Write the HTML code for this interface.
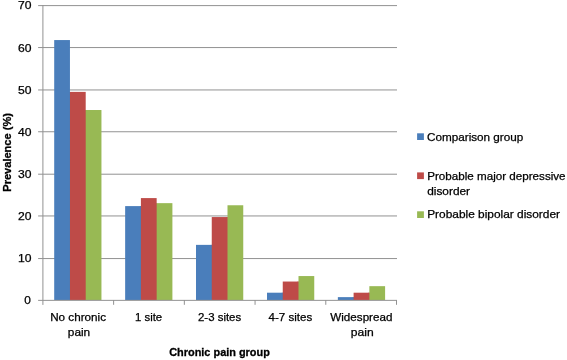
<!DOCTYPE html>
<html lang="en"><head><meta charset="utf-8"><title>Chronic pain prevalence chart</title>
<style>html,body{margin:0;padding:0;background:#fff}body{width:567px;height:360px;overflow:hidden}svg{display:block}text{font-family:"Liberation Sans",sans-serif;fill:#000;stroke:#000;stroke-width:.25px}.b{font-weight:bold;stroke-width:.3px}</style></head><body>
<svg width="567" height="360" viewBox="0 0 567 360">
<rect width="567" height="360" fill="#fff"/>
<g fill="#929292">
<rect x="38.1" y="258.05" width="358.9" height="1"/>
<rect x="38.1" y="215.45" width="358.9" height="1"/>
<rect x="38.1" y="173.70" width="358.9" height="1"/>
<rect x="38.1" y="131.25" width="358.9" height="1"/>
<rect x="38.1" y="89.45" width="358.9" height="1"/>
<rect x="38.1" y="47.05" width="358.9" height="1"/>
<rect x="38.1" y="5.10" width="358.9" height="1"/>
</g>
<g>
<rect x="68.95" y="91.89" width="1.05" height="208.11" fill="#4a7ebb"/>
<rect x="54.20" y="40.06" width="15.75" height="259.94" fill="#4a7ebb"/>
<rect x="84.70" y="110.01" width="1.30" height="189.99" fill="#be4b48"/>
<rect x="69.95" y="91.89" width="15.75" height="208.11" fill="#be4b48"/>
<rect x="85.70" y="110.01" width="15.75" height="189.99" fill="#98b954"/>
<rect x="139.90" y="206.10" width="1.10" height="93.90" fill="#4a7ebb"/>
<rect x="125.15" y="206.10" width="15.75" height="93.90" fill="#4a7ebb"/>
<rect x="155.65" y="203.15" width="1.35" height="96.85" fill="#be4b48"/>
<rect x="140.90" y="198.09" width="15.75" height="101.91" fill="#be4b48"/>
<rect x="156.65" y="203.15" width="15.75" height="96.85" fill="#98b954"/>
<rect x="210.75" y="244.87" width="1.25" height="55.13" fill="#4a7ebb"/>
<rect x="196.00" y="244.87" width="15.75" height="55.13" fill="#4a7ebb"/>
<rect x="226.50" y="217.06" width="1.50" height="82.94" fill="#be4b48"/>
<rect x="211.75" y="217.06" width="15.75" height="82.94" fill="#be4b48"/>
<rect x="227.50" y="205.26" width="15.75" height="94.74" fill="#98b954"/>
<rect x="281.75" y="292.70" width="1.25" height="7.30" fill="#4a7ebb"/>
<rect x="267.00" y="292.70" width="15.75" height="7.30" fill="#4a7ebb"/>
<rect x="297.50" y="281.54" width="1.50" height="18.46" fill="#be4b48"/>
<rect x="282.75" y="281.54" width="15.75" height="18.46" fill="#be4b48"/>
<rect x="298.50" y="276.06" width="15.75" height="23.94" fill="#98b954"/>
<rect x="352.60" y="297.13" width="1.40" height="2.87" fill="#4a7ebb"/>
<rect x="337.85" y="297.13" width="15.75" height="2.87" fill="#4a7ebb"/>
<rect x="368.35" y="292.70" width="1.65" height="7.30" fill="#be4b48"/>
<rect x="353.60" y="292.70" width="15.75" height="7.30" fill="#be4b48"/>
<rect x="369.35" y="286.17" width="15.75" height="13.83" fill="#98b954"/>
</g>
<g fill="#929292">
<rect x="42.4" y="5" width="1" height="299.9"/>
<rect x="38.1" y="299.86" width="358.9" height="1"/>
<rect x="113.12" y="300" width="1" height="4.8"/>
<rect x="183.84" y="300" width="1" height="4.8"/>
<rect x="254.56" y="300" width="1" height="4.8"/>
<rect x="325.28" y="300" width="1" height="4.8"/>
<rect x="396.00" y="300" width="1" height="4.8"/>
</g>
<g font-size="11">
<text x="24.2" y="304.4" textLength="6.6" lengthAdjust="spacingAndGlyphs">0</text>
<text x="18.0" y="262.3" textLength="13.5" lengthAdjust="spacingAndGlyphs">10</text>
<text x="18.0" y="220.1" textLength="13.5" lengthAdjust="spacingAndGlyphs">20</text>
<text x="18.0" y="178.0" textLength="13.5" lengthAdjust="spacingAndGlyphs">30</text>
<text x="18.0" y="135.8" textLength="13.5" lengthAdjust="spacingAndGlyphs">40</text>
<text x="18.0" y="93.7" textLength="13.5" lengthAdjust="spacingAndGlyphs">50</text>
<text x="18.0" y="51.5" textLength="13.5" lengthAdjust="spacingAndGlyphs">60</text>
<text x="18.0" y="9.4" textLength="13.5" lengthAdjust="spacingAndGlyphs">70</text>
<text x="50.2" y="320.9" textLength="55.8" lengthAdjust="spacingAndGlyphs">No chronic</text>
<text x="67.8" y="336.0" textLength="22.4" lengthAdjust="spacingAndGlyphs">pain</text>
<text x="135.0" y="320.9" textLength="27.2" lengthAdjust="spacingAndGlyphs">1 site</text>
<text x="198.0" y="320.9" textLength="43.2" lengthAdjust="spacingAndGlyphs">2-3 sites</text>
<text x="268.6" y="320.9" textLength="43.7" lengthAdjust="spacingAndGlyphs">4-7 sites</text>
<text x="330.3" y="320.9" textLength="62.1" lengthAdjust="spacingAndGlyphs">Widespread</text>
<text x="350.8" y="336.0" textLength="22.9" lengthAdjust="spacingAndGlyphs">pain</text>
<text x="427.0" y="141.1" textLength="96.3" lengthAdjust="spacingAndGlyphs">Comparison group</text>
<text x="427.2" y="179.6" textLength="138.4" lengthAdjust="spacingAndGlyphs">Probable major depressive</text>
<text x="427.2" y="194.7" textLength="42.9" lengthAdjust="spacingAndGlyphs">disorder</text>
<text x="427.2" y="218.4" textLength="132.8" lengthAdjust="spacingAndGlyphs">Probable bipolar disorder</text>
<text font-size="11.5" class="b" x="169.2" y="356.1" textLength="100.7" lengthAdjust="spacingAndGlyphs">Chronic pain group</text>
<text class="b" font-size="11.5" transform="translate(10.7 191.7) rotate(-90)" x="0" y="0" textLength="78.6" lengthAdjust="spacingAndGlyphs">Prevalence (%)</text>
</g>
<g>
<rect x="417.1" y="133.3" width="6.8" height="6.7" fill="#4a7ebb"/>
<rect x="417.1" y="172.4" width="6.8" height="6.7" fill="#be4b48"/>
<rect x="417.1" y="211.3" width="6.8" height="6.7" fill="#98b954"/>
</g>
</svg></body></html>
